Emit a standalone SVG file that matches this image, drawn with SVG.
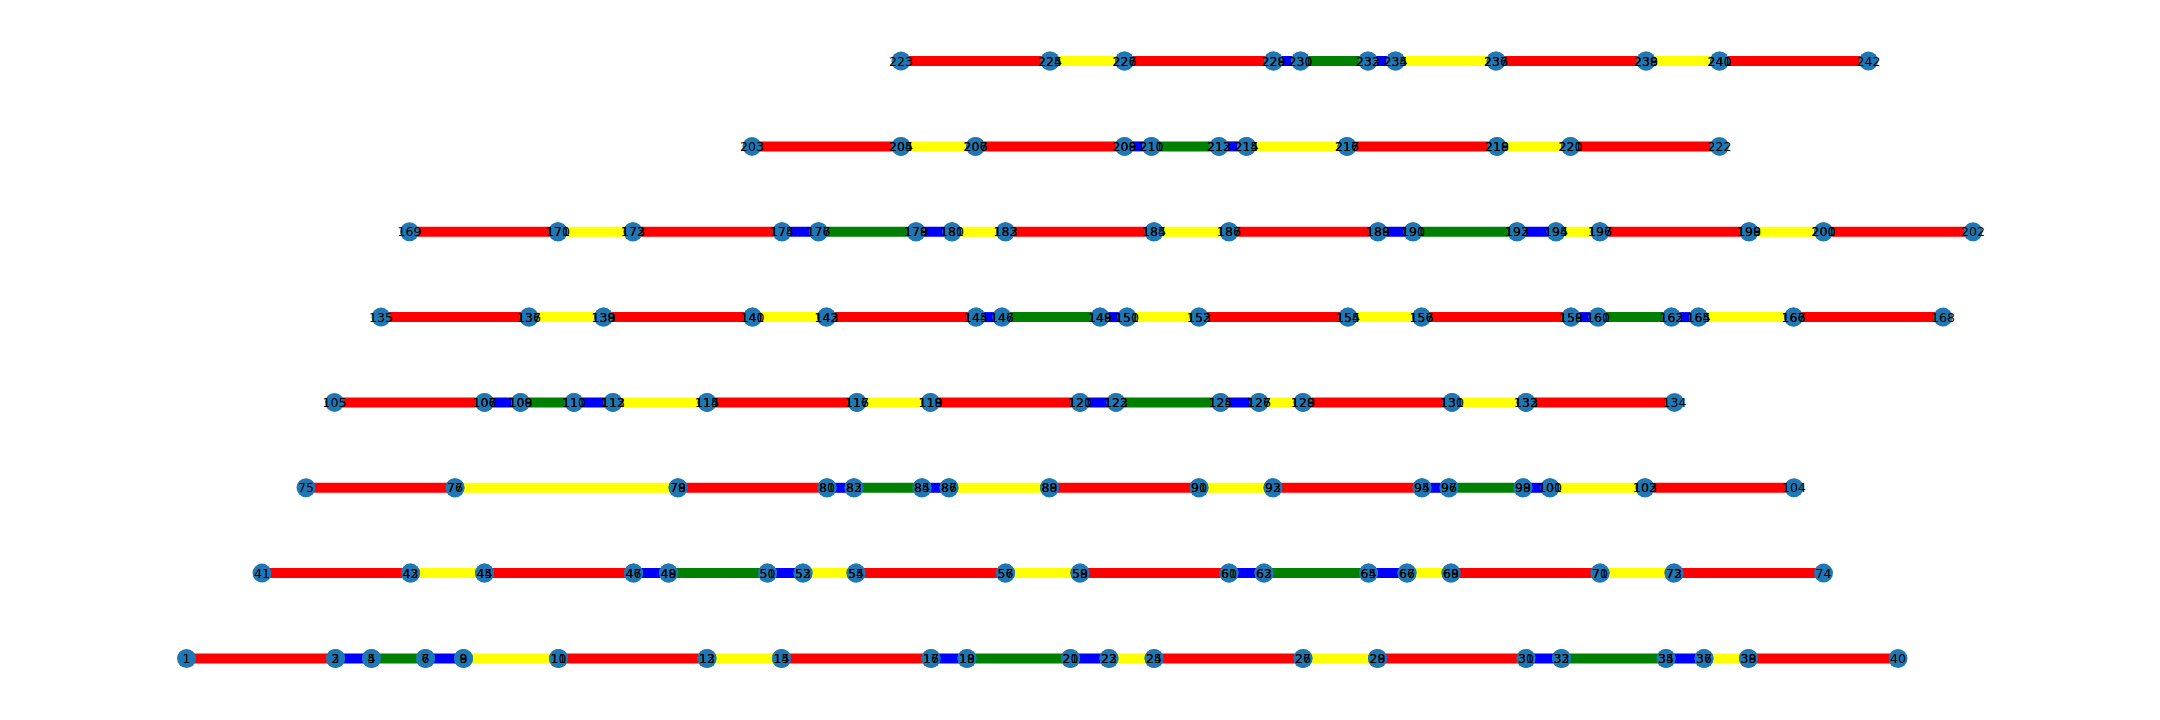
<svg xmlns="http://www.w3.org/2000/svg" width="2160" height="720" viewBox="0 0 2160 720">
<style>
.e{stroke-width:10;fill:none}
.r{stroke:#ff0000}.y{stroke:#ffff00}.b{stroke:#0000ff}.g{stroke:#008000}
#nodes circle{fill:#1f77b4}
#labels text{font-family:"DejaVu Sans",sans-serif;font-size:12.5px;text-anchor:middle;fill:#000}
</style>
<rect width="2160" height="720" fill="#ffffff"/>
<g id="connectors">
<line class="e r" x1="186.5" y1="658.5" x2="335.5" y2="658.5"/>
<line class="e b" x1="335.5" y1="658.5" x2="371.5" y2="658.5"/>
<line class="e g" x1="371.5" y1="658.5" x2="425.5" y2="658.5"/>
<line class="e b" x1="425.5" y1="658.5" x2="463.5" y2="658.5"/>
<line class="e y" x1="463.5" y1="658.5" x2="558.5" y2="658.5"/>
<line class="e r" x1="558.5" y1="658.5" x2="707" y2="658.5"/>
<line class="e y" x1="707" y1="658.5" x2="781.5" y2="658.5"/>
<line class="e r" x1="781.5" y1="658.5" x2="931" y2="658.5"/>
<line class="e b" x1="931" y1="658.5" x2="967" y2="658.5"/>
<line class="e g" x1="967" y1="658.5" x2="1070.5" y2="658.5"/>
<line class="e b" x1="1070.5" y1="658.5" x2="1109" y2="658.5"/>
<line class="e y" x1="1109" y1="658.5" x2="1154" y2="658.5"/>
<line class="e r" x1="1154" y1="658.5" x2="1303" y2="658.5"/>
<line class="e y" x1="1303" y1="658.5" x2="1377.5" y2="658.5"/>
<line class="e r" x1="1377.5" y1="658.5" x2="1526" y2="658.5"/>
<line class="e b" x1="1526" y1="658.5" x2="1561.5" y2="658.5"/>
<line class="e g" x1="1561.5" y1="658.5" x2="1666" y2="658.5"/>
<line class="e b" x1="1666" y1="658.5" x2="1704" y2="658.5"/>
<line class="e y" x1="1704" y1="658.5" x2="1748.5" y2="658.5"/>
<line class="e r" x1="1748.5" y1="658.5" x2="1898" y2="658.5"/>

<line class="e r" x1="262" y1="573.1" x2="410.5" y2="573.1"/>
<line class="e y" x1="410.5" y1="573.1" x2="484.5" y2="573.1"/>
<line class="e r" x1="484.5" y1="573.1" x2="633.5" y2="573.1"/>
<line class="e b" x1="633.5" y1="573.1" x2="668.5" y2="573.1"/>
<line class="e g" x1="668.5" y1="573.1" x2="767.5" y2="573.1"/>
<line class="e b" x1="767.5" y1="573.1" x2="803" y2="573.1"/>
<line class="e y" x1="803" y1="573.1" x2="856" y2="573.1"/>
<line class="e r" x1="856" y1="573.1" x2="1005.5" y2="573.1"/>
<line class="e y" x1="1005.5" y1="573.1" x2="1080" y2="573.1"/>
<line class="e r" x1="1080" y1="573.1" x2="1229" y2="573.1"/>
<line class="e b" x1="1229" y1="573.1" x2="1264" y2="573.1"/>
<line class="e g" x1="1264" y1="573.1" x2="1368.5" y2="573.1"/>
<line class="e b" x1="1368.5" y1="573.1" x2="1407" y2="573.1"/>
<line class="e y" x1="1407" y1="573.1" x2="1451" y2="573.1"/>
<line class="e r" x1="1451" y1="573.1" x2="1600" y2="573.1"/>
<line class="e y" x1="1600" y1="573.1" x2="1674" y2="573.1"/>
<line class="e r" x1="1674" y1="573.1" x2="1823.5" y2="573.1"/>

<line class="e r" x1="306" y1="487.8" x2="455" y2="487.8"/>
<line class="e y" x1="455" y1="487.8" x2="678" y2="487.8"/>
<line class="e r" x1="678" y1="487.8" x2="827" y2="487.8"/>
<line class="e b" x1="827" y1="487.8" x2="854" y2="487.8"/>
<line class="e g" x1="854" y1="487.8" x2="922" y2="487.8"/>
<line class="e b" x1="922" y1="487.8" x2="949" y2="487.8"/>
<line class="e y" x1="949" y1="487.8" x2="1049.5" y2="487.8"/>
<line class="e r" x1="1049.5" y1="487.8" x2="1199" y2="487.8"/>
<line class="e y" x1="1199" y1="487.8" x2="1273" y2="487.8"/>
<line class="e r" x1="1273" y1="487.8" x2="1422" y2="487.8"/>
<line class="e b" x1="1422" y1="487.8" x2="1449" y2="487.8"/>
<line class="e g" x1="1449" y1="487.8" x2="1523" y2="487.8"/>
<line class="e b" x1="1523" y1="487.8" x2="1550" y2="487.8"/>
<line class="e y" x1="1550" y1="487.8" x2="1645" y2="487.8"/>
<line class="e r" x1="1645" y1="487.8" x2="1794" y2="487.8"/>

<line class="e r" x1="334.5" y1="402.4" x2="484.5" y2="402.4"/>
<line class="e b" x1="484.5" y1="402.4" x2="520.5" y2="402.4"/>
<line class="e g" x1="520.5" y1="402.4" x2="574" y2="402.4"/>
<line class="e b" x1="574" y1="402.4" x2="613" y2="402.4"/>
<line class="e y" x1="613" y1="402.4" x2="707" y2="402.4"/>
<line class="e r" x1="707" y1="402.4" x2="857" y2="402.4"/>
<line class="e y" x1="857" y1="402.4" x2="930.5" y2="402.4"/>
<line class="e r" x1="930.5" y1="402.4" x2="1080" y2="402.4"/>
<line class="e b" x1="1080" y1="402.4" x2="1116" y2="402.4"/>
<line class="e g" x1="1116" y1="402.4" x2="1220.5" y2="402.4"/>
<line class="e b" x1="1220.5" y1="402.4" x2="1259" y2="402.4"/>
<line class="e y" x1="1259" y1="402.4" x2="1303" y2="402.4"/>
<line class="e r" x1="1303" y1="402.4" x2="1452" y2="402.4"/>
<line class="e y" x1="1452" y1="402.4" x2="1526" y2="402.4"/>
<line class="e r" x1="1526" y1="402.4" x2="1674.5" y2="402.4"/>

<line class="e r" x1="381" y1="317.1" x2="529" y2="317.1"/>
<line class="e y" x1="529" y1="317.1" x2="603.5" y2="317.1"/>
<line class="e r" x1="603.5" y1="317.1" x2="752.5" y2="317.1"/>
<line class="e y" x1="752.5" y1="317.1" x2="826.5" y2="317.1"/>
<line class="e r" x1="826.5" y1="317.1" x2="976" y2="317.1"/>
<line class="e b" x1="976" y1="317.1" x2="1002" y2="317.1"/>
<line class="e g" x1="1002" y1="317.1" x2="1100" y2="317.1"/>
<line class="e b" x1="1100" y1="317.1" x2="1127" y2="317.1"/>
<line class="e y" x1="1127" y1="317.1" x2="1199" y2="317.1"/>
<line class="e r" x1="1199" y1="317.1" x2="1348" y2="317.1"/>
<line class="e y" x1="1348" y1="317.1" x2="1421.5" y2="317.1"/>
<line class="e r" x1="1421.5" y1="317.1" x2="1571" y2="317.1"/>
<line class="e b" x1="1571" y1="317.1" x2="1598" y2="317.1"/>
<line class="e g" x1="1598" y1="317.1" x2="1671.5" y2="317.1"/>
<line class="e b" x1="1671.5" y1="317.1" x2="1698.5" y2="317.1"/>
<line class="e y" x1="1698.5" y1="317.1" x2="1793.5" y2="317.1"/>
<line class="e r" x1="1793.5" y1="317.1" x2="1943" y2="317.1"/>

<line class="e r" x1="409.5" y1="231.7" x2="558" y2="231.7"/>
<line class="e y" x1="558" y1="231.7" x2="633" y2="231.7"/>
<line class="e r" x1="633" y1="231.7" x2="782" y2="231.7"/>
<line class="e b" x1="782" y1="231.7" x2="818.5" y2="231.7"/>
<line class="e g" x1="818.5" y1="231.7" x2="916" y2="231.7"/>
<line class="e b" x1="916" y1="231.7" x2="952" y2="231.7"/>
<line class="e y" x1="952" y1="231.7" x2="1005.5" y2="231.7"/>
<line class="e r" x1="1005.5" y1="231.7" x2="1154" y2="231.7"/>
<line class="e y" x1="1154" y1="231.7" x2="1229" y2="231.7"/>
<line class="e r" x1="1229" y1="231.7" x2="1378" y2="231.7"/>
<line class="e b" x1="1378" y1="231.7" x2="1413" y2="231.7"/>
<line class="e g" x1="1413" y1="231.7" x2="1517" y2="231.7"/>
<line class="e b" x1="1517" y1="231.7" x2="1556" y2="231.7"/>
<line class="e y" x1="1556" y1="231.7" x2="1600" y2="231.7"/>
<line class="e r" x1="1600" y1="231.7" x2="1749" y2="231.7"/>
<line class="e y" x1="1749" y1="231.7" x2="1823.5" y2="231.7"/>
<line class="e r" x1="1823.5" y1="231.7" x2="1973" y2="231.7"/>

<line class="e r" x1="752" y1="146.4" x2="901" y2="146.4"/>
<line class="e y" x1="901" y1="146.4" x2="975.5" y2="146.4"/>
<line class="e r" x1="975.5" y1="146.4" x2="1124.5" y2="146.4"/>
<line class="e b" x1="1124.5" y1="146.4" x2="1151.5" y2="146.4"/>
<line class="e g" x1="1151.5" y1="146.4" x2="1219" y2="146.4"/>
<line class="e b" x1="1219" y1="146.4" x2="1246.5" y2="146.4"/>
<line class="e y" x1="1246.5" y1="146.4" x2="1347" y2="146.4"/>
<line class="e r" x1="1347" y1="146.4" x2="1497" y2="146.4"/>
<line class="e y" x1="1497" y1="146.4" x2="1570.5" y2="146.4"/>
<line class="e r" x1="1570.5" y1="146.4" x2="1719.5" y2="146.4"/>

<line class="e r" x1="901" y1="61" x2="1050" y2="61"/>
<line class="e y" x1="1050" y1="61" x2="1124.5" y2="61"/>
<line class="e r" x1="1124.5" y1="61" x2="1273.5" y2="61"/>
<line class="e b" x1="1273.5" y1="61" x2="1300.5" y2="61"/>
<line class="e g" x1="1300.5" y1="61" x2="1368" y2="61"/>
<line class="e b" x1="1368" y1="61" x2="1395.5" y2="61"/>
<line class="e y" x1="1395.5" y1="61" x2="1496" y2="61"/>
<line class="e r" x1="1496" y1="61" x2="1646" y2="61"/>
<line class="e y" x1="1646" y1="61" x2="1719.5" y2="61"/>
<line class="e r" x1="1719.5" y1="61" x2="1868.5" y2="61"/>
</g>
<g id="nodes">
<g id="n1"><circle cx="186.5" cy="658.5" r="9.5"/></g>
<g id="n2"><circle cx="335.5" cy="658.5" r="9.5"/></g>
<g id="n3"><circle cx="335.5" cy="658.5" r="9.5"/></g>
<g id="n4"><circle cx="371.5" cy="658.5" r="9.5"/></g>
<g id="n5"><circle cx="371.5" cy="658.5" r="9.5"/></g>
<g id="n6"><circle cx="425.5" cy="658.5" r="9.5"/></g>
<g id="n7"><circle cx="425.5" cy="658.5" r="9.5"/></g>
<g id="n8"><circle cx="463.5" cy="658.5" r="9.5"/></g>
<g id="n9"><circle cx="463.5" cy="658.5" r="9.5"/></g>
<g id="n10"><circle cx="558.5" cy="658.5" r="9.5"/></g>
<g id="n11"><circle cx="558.5" cy="658.5" r="9.5"/></g>
<g id="n12"><circle cx="707" cy="658.5" r="9.5"/></g>
<g id="n13"><circle cx="707" cy="658.5" r="9.5"/></g>
<g id="n14"><circle cx="781.5" cy="658.5" r="9.5"/></g>
<g id="n15"><circle cx="781.5" cy="658.5" r="9.5"/></g>
<g id="n16"><circle cx="931" cy="658.5" r="9.5"/></g>
<g id="n17"><circle cx="931" cy="658.5" r="9.5"/></g>
<g id="n18"><circle cx="967" cy="658.5" r="9.5"/></g>
<g id="n19"><circle cx="967" cy="658.5" r="9.5"/></g>
<g id="n20"><circle cx="1070.5" cy="658.5" r="9.5"/></g>
<g id="n21"><circle cx="1070.5" cy="658.5" r="9.5"/></g>
<g id="n22"><circle cx="1109" cy="658.5" r="9.5"/></g>
<g id="n23"><circle cx="1109" cy="658.5" r="9.5"/></g>
<g id="n24"><circle cx="1154" cy="658.5" r="9.5"/></g>
<g id="n25"><circle cx="1154" cy="658.5" r="9.5"/></g>
<g id="n26"><circle cx="1303" cy="658.5" r="9.5"/></g>
<g id="n27"><circle cx="1303" cy="658.5" r="9.5"/></g>
<g id="n28"><circle cx="1377.5" cy="658.5" r="9.5"/></g>
<g id="n29"><circle cx="1377.5" cy="658.5" r="9.5"/></g>
<g id="n30"><circle cx="1526" cy="658.5" r="9.5"/></g>
<g id="n31"><circle cx="1526" cy="658.5" r="9.5"/></g>
<g id="n32"><circle cx="1561.5" cy="658.5" r="9.5"/></g>
<g id="n33"><circle cx="1561.5" cy="658.5" r="9.5"/></g>
<g id="n34"><circle cx="1666" cy="658.5" r="9.5"/></g>
<g id="n35"><circle cx="1666" cy="658.5" r="9.5"/></g>
<g id="n36"><circle cx="1704" cy="658.5" r="9.5"/></g>
<g id="n37"><circle cx="1704" cy="658.5" r="9.5"/></g>
<g id="n38"><circle cx="1748.5" cy="658.5" r="9.5"/></g>
<g id="n39"><circle cx="1748.5" cy="658.5" r="9.5"/></g>
<g id="n40"><circle cx="1898" cy="658.5" r="9.5"/></g>

<g id="n41"><circle cx="262" cy="573.1" r="9.5"/></g>
<g id="n42"><circle cx="410.5" cy="573.1" r="9.5"/></g>
<g id="n43"><circle cx="410.5" cy="573.1" r="9.5"/></g>
<g id="n44"><circle cx="484.5" cy="573.1" r="9.5"/></g>
<g id="n45"><circle cx="484.5" cy="573.1" r="9.5"/></g>
<g id="n46"><circle cx="633.5" cy="573.1" r="9.5"/></g>
<g id="n47"><circle cx="633.5" cy="573.1" r="9.5"/></g>
<g id="n48"><circle cx="668.5" cy="573.1" r="9.5"/></g>
<g id="n49"><circle cx="668.5" cy="573.1" r="9.5"/></g>
<g id="n50"><circle cx="767.5" cy="573.1" r="9.5"/></g>
<g id="n51"><circle cx="767.5" cy="573.1" r="9.5"/></g>
<g id="n52"><circle cx="803" cy="573.1" r="9.5"/></g>
<g id="n53"><circle cx="803" cy="573.1" r="9.5"/></g>
<g id="n54"><circle cx="856" cy="573.1" r="9.5"/></g>
<g id="n55"><circle cx="856" cy="573.1" r="9.5"/></g>
<g id="n56"><circle cx="1005.5" cy="573.1" r="9.5"/></g>
<g id="n57"><circle cx="1005.5" cy="573.1" r="9.5"/></g>
<g id="n58"><circle cx="1080" cy="573.1" r="9.5"/></g>
<g id="n59"><circle cx="1080" cy="573.1" r="9.5"/></g>
<g id="n60"><circle cx="1229" cy="573.1" r="9.5"/></g>
<g id="n61"><circle cx="1229" cy="573.1" r="9.5"/></g>
<g id="n62"><circle cx="1264" cy="573.1" r="9.5"/></g>
<g id="n63"><circle cx="1264" cy="573.1" r="9.5"/></g>
<g id="n64"><circle cx="1368.5" cy="573.1" r="9.5"/></g>
<g id="n65"><circle cx="1368.5" cy="573.1" r="9.5"/></g>
<g id="n66"><circle cx="1407" cy="573.1" r="9.5"/></g>
<g id="n67"><circle cx="1407" cy="573.1" r="9.5"/></g>
<g id="n68"><circle cx="1451" cy="573.1" r="9.5"/></g>
<g id="n69"><circle cx="1451" cy="573.1" r="9.5"/></g>
<g id="n70"><circle cx="1600" cy="573.1" r="9.5"/></g>
<g id="n71"><circle cx="1600" cy="573.1" r="9.5"/></g>
<g id="n72"><circle cx="1674" cy="573.1" r="9.5"/></g>
<g id="n73"><circle cx="1674" cy="573.1" r="9.5"/></g>
<g id="n74"><circle cx="1823.5" cy="573.1" r="9.5"/></g>

<g id="n75"><circle cx="306" cy="487.8" r="9.5"/></g>
<g id="n76"><circle cx="455" cy="487.8" r="9.5"/></g>
<g id="n77"><circle cx="455" cy="487.8" r="9.5"/></g>
<g id="n78"><circle cx="678" cy="487.8" r="9.5"/></g>
<g id="n79"><circle cx="678" cy="487.8" r="9.5"/></g>
<g id="n80"><circle cx="827" cy="487.8" r="9.5"/></g>
<g id="n81"><circle cx="827" cy="487.8" r="9.5"/></g>
<g id="n82"><circle cx="854" cy="487.8" r="9.5"/></g>
<g id="n83"><circle cx="854" cy="487.8" r="9.5"/></g>
<g id="n84"><circle cx="922" cy="487.8" r="9.5"/></g>
<g id="n85"><circle cx="922" cy="487.8" r="9.5"/></g>
<g id="n86"><circle cx="949" cy="487.8" r="9.5"/></g>
<g id="n87"><circle cx="949" cy="487.8" r="9.5"/></g>
<g id="n88"><circle cx="1049.5" cy="487.8" r="9.5"/></g>
<g id="n89"><circle cx="1049.5" cy="487.8" r="9.5"/></g>
<g id="n90"><circle cx="1199" cy="487.8" r="9.5"/></g>
<g id="n91"><circle cx="1199" cy="487.8" r="9.5"/></g>
<g id="n92"><circle cx="1273" cy="487.8" r="9.5"/></g>
<g id="n93"><circle cx="1273" cy="487.8" r="9.5"/></g>
<g id="n94"><circle cx="1422" cy="487.8" r="9.5"/></g>
<g id="n95"><circle cx="1422" cy="487.8" r="9.5"/></g>
<g id="n96"><circle cx="1449" cy="487.8" r="9.5"/></g>
<g id="n97"><circle cx="1449" cy="487.8" r="9.5"/></g>
<g id="n98"><circle cx="1523" cy="487.8" r="9.5"/></g>
<g id="n99"><circle cx="1523" cy="487.8" r="9.5"/></g>
<g id="n100"><circle cx="1550" cy="487.8" r="9.5"/></g>
<g id="n101"><circle cx="1550" cy="487.8" r="9.5"/></g>
<g id="n102"><circle cx="1645" cy="487.8" r="9.5"/></g>
<g id="n103"><circle cx="1645" cy="487.8" r="9.5"/></g>
<g id="n104"><circle cx="1794" cy="487.8" r="9.5"/></g>

<g id="n105"><circle cx="334.5" cy="402.4" r="9.5"/></g>
<g id="n106"><circle cx="484.5" cy="402.4" r="9.5"/></g>
<g id="n107"><circle cx="484.5" cy="402.4" r="9.5"/></g>
<g id="n108"><circle cx="520.5" cy="402.4" r="9.5"/></g>
<g id="n109"><circle cx="520.5" cy="402.4" r="9.5"/></g>
<g id="n110"><circle cx="574" cy="402.4" r="9.5"/></g>
<g id="n111"><circle cx="574" cy="402.4" r="9.5"/></g>
<g id="n112"><circle cx="613" cy="402.4" r="9.5"/></g>
<g id="n113"><circle cx="613" cy="402.4" r="9.5"/></g>
<g id="n114"><circle cx="707" cy="402.4" r="9.5"/></g>
<g id="n115"><circle cx="707" cy="402.4" r="9.5"/></g>
<g id="n116"><circle cx="857" cy="402.4" r="9.5"/></g>
<g id="n117"><circle cx="857" cy="402.4" r="9.5"/></g>
<g id="n118"><circle cx="930.5" cy="402.4" r="9.5"/></g>
<g id="n119"><circle cx="930.5" cy="402.4" r="9.5"/></g>
<g id="n120"><circle cx="1080" cy="402.4" r="9.5"/></g>
<g id="n121"><circle cx="1080" cy="402.4" r="9.5"/></g>
<g id="n122"><circle cx="1116" cy="402.4" r="9.5"/></g>
<g id="n123"><circle cx="1116" cy="402.4" r="9.5"/></g>
<g id="n124"><circle cx="1220.5" cy="402.4" r="9.5"/></g>
<g id="n125"><circle cx="1220.5" cy="402.4" r="9.5"/></g>
<g id="n126"><circle cx="1259" cy="402.4" r="9.5"/></g>
<g id="n127"><circle cx="1259" cy="402.4" r="9.5"/></g>
<g id="n128"><circle cx="1303" cy="402.4" r="9.5"/></g>
<g id="n129"><circle cx="1303" cy="402.4" r="9.5"/></g>
<g id="n130"><circle cx="1452" cy="402.4" r="9.5"/></g>
<g id="n131"><circle cx="1452" cy="402.4" r="9.5"/></g>
<g id="n132"><circle cx="1526" cy="402.4" r="9.5"/></g>
<g id="n133"><circle cx="1526" cy="402.4" r="9.5"/></g>
<g id="n134"><circle cx="1674.5" cy="402.4" r="9.5"/></g>

<g id="n135"><circle cx="381" cy="317.1" r="9.5"/></g>
<g id="n136"><circle cx="529" cy="317.1" r="9.5"/></g>
<g id="n137"><circle cx="529" cy="317.1" r="9.5"/></g>
<g id="n138"><circle cx="603.5" cy="317.1" r="9.5"/></g>
<g id="n139"><circle cx="603.5" cy="317.1" r="9.5"/></g>
<g id="n140"><circle cx="752.5" cy="317.1" r="9.5"/></g>
<g id="n141"><circle cx="752.5" cy="317.1" r="9.5"/></g>
<g id="n142"><circle cx="826.5" cy="317.1" r="9.5"/></g>
<g id="n143"><circle cx="826.5" cy="317.1" r="9.5"/></g>
<g id="n144"><circle cx="976" cy="317.1" r="9.5"/></g>
<g id="n145"><circle cx="976" cy="317.1" r="9.5"/></g>
<g id="n146"><circle cx="1002" cy="317.1" r="9.5"/></g>
<g id="n147"><circle cx="1002" cy="317.1" r="9.5"/></g>
<g id="n148"><circle cx="1100" cy="317.1" r="9.5"/></g>
<g id="n149"><circle cx="1100" cy="317.1" r="9.5"/></g>
<g id="n150"><circle cx="1127" cy="317.1" r="9.5"/></g>
<g id="n151"><circle cx="1127" cy="317.1" r="9.5"/></g>
<g id="n152"><circle cx="1199" cy="317.1" r="9.5"/></g>
<g id="n153"><circle cx="1199" cy="317.1" r="9.5"/></g>
<g id="n154"><circle cx="1348" cy="317.1" r="9.5"/></g>
<g id="n155"><circle cx="1348" cy="317.1" r="9.5"/></g>
<g id="n156"><circle cx="1421.5" cy="317.1" r="9.5"/></g>
<g id="n157"><circle cx="1421.5" cy="317.1" r="9.5"/></g>
<g id="n158"><circle cx="1571" cy="317.1" r="9.5"/></g>
<g id="n159"><circle cx="1571" cy="317.1" r="9.5"/></g>
<g id="n160"><circle cx="1598" cy="317.1" r="9.5"/></g>
<g id="n161"><circle cx="1598" cy="317.1" r="9.5"/></g>
<g id="n162"><circle cx="1671.5" cy="317.1" r="9.5"/></g>
<g id="n163"><circle cx="1671.5" cy="317.1" r="9.5"/></g>
<g id="n164"><circle cx="1698.5" cy="317.1" r="9.5"/></g>
<g id="n165"><circle cx="1698.5" cy="317.1" r="9.5"/></g>
<g id="n166"><circle cx="1793.5" cy="317.1" r="9.5"/></g>
<g id="n167"><circle cx="1793.5" cy="317.1" r="9.5"/></g>
<g id="n168"><circle cx="1943" cy="317.1" r="9.5"/></g>

<g id="n169"><circle cx="409.5" cy="231.7" r="9.5"/></g>
<g id="n170"><circle cx="558" cy="231.7" r="9.5"/></g>
<g id="n171"><circle cx="558" cy="231.7" r="9.5"/></g>
<g id="n172"><circle cx="633" cy="231.7" r="9.5"/></g>
<g id="n173"><circle cx="633" cy="231.7" r="9.5"/></g>
<g id="n174"><circle cx="782" cy="231.7" r="9.5"/></g>
<g id="n175"><circle cx="782" cy="231.7" r="9.5"/></g>
<g id="n176"><circle cx="818.5" cy="231.7" r="9.5"/></g>
<g id="n177"><circle cx="818.5" cy="231.7" r="9.5"/></g>
<g id="n178"><circle cx="916" cy="231.7" r="9.5"/></g>
<g id="n179"><circle cx="916" cy="231.7" r="9.5"/></g>
<g id="n180"><circle cx="952" cy="231.7" r="9.5"/></g>
<g id="n181"><circle cx="952" cy="231.7" r="9.5"/></g>
<g id="n182"><circle cx="1005.5" cy="231.7" r="9.5"/></g>
<g id="n183"><circle cx="1005.5" cy="231.7" r="9.5"/></g>
<g id="n184"><circle cx="1154" cy="231.7" r="9.5"/></g>
<g id="n185"><circle cx="1154" cy="231.7" r="9.5"/></g>
<g id="n186"><circle cx="1229" cy="231.7" r="9.5"/></g>
<g id="n187"><circle cx="1229" cy="231.7" r="9.5"/></g>
<g id="n188"><circle cx="1378" cy="231.7" r="9.5"/></g>
<g id="n189"><circle cx="1378" cy="231.7" r="9.5"/></g>
<g id="n190"><circle cx="1413" cy="231.7" r="9.5"/></g>
<g id="n191"><circle cx="1413" cy="231.7" r="9.5"/></g>
<g id="n192"><circle cx="1517" cy="231.7" r="9.5"/></g>
<g id="n193"><circle cx="1517" cy="231.7" r="9.5"/></g>
<g id="n194"><circle cx="1556" cy="231.7" r="9.5"/></g>
<g id="n195"><circle cx="1556" cy="231.7" r="9.5"/></g>
<g id="n196"><circle cx="1600" cy="231.7" r="9.5"/></g>
<g id="n197"><circle cx="1600" cy="231.7" r="9.5"/></g>
<g id="n198"><circle cx="1749" cy="231.7" r="9.5"/></g>
<g id="n199"><circle cx="1749" cy="231.7" r="9.5"/></g>
<g id="n200"><circle cx="1823.5" cy="231.7" r="9.5"/></g>
<g id="n201"><circle cx="1823.5" cy="231.7" r="9.5"/></g>
<g id="n202"><circle cx="1973" cy="231.7" r="9.5"/></g>

<g id="n203"><circle cx="752" cy="146.4" r="9.5"/></g>
<g id="n204"><circle cx="901" cy="146.4" r="9.5"/></g>
<g id="n205"><circle cx="901" cy="146.4" r="9.5"/></g>
<g id="n206"><circle cx="975.5" cy="146.4" r="9.5"/></g>
<g id="n207"><circle cx="975.5" cy="146.4" r="9.5"/></g>
<g id="n208"><circle cx="1124.5" cy="146.4" r="9.5"/></g>
<g id="n209"><circle cx="1124.5" cy="146.4" r="9.5"/></g>
<g id="n210"><circle cx="1151.5" cy="146.4" r="9.5"/></g>
<g id="n211"><circle cx="1151.5" cy="146.4" r="9.5"/></g>
<g id="n212"><circle cx="1219" cy="146.4" r="9.5"/></g>
<g id="n213"><circle cx="1219" cy="146.4" r="9.5"/></g>
<g id="n214"><circle cx="1246.5" cy="146.4" r="9.5"/></g>
<g id="n215"><circle cx="1246.5" cy="146.4" r="9.5"/></g>
<g id="n216"><circle cx="1347" cy="146.4" r="9.5"/></g>
<g id="n217"><circle cx="1347" cy="146.4" r="9.5"/></g>
<g id="n218"><circle cx="1497" cy="146.4" r="9.5"/></g>
<g id="n219"><circle cx="1497" cy="146.4" r="9.5"/></g>
<g id="n220"><circle cx="1570.5" cy="146.4" r="9.5"/></g>
<g id="n221"><circle cx="1570.5" cy="146.4" r="9.5"/></g>
<g id="n222"><circle cx="1719.5" cy="146.4" r="9.5"/></g>

<g id="n223"><circle cx="901" cy="61" r="9.5"/></g>
<g id="n224"><circle cx="1050" cy="61" r="9.5"/></g>
<g id="n225"><circle cx="1050" cy="61" r="9.5"/></g>
<g id="n226"><circle cx="1124.5" cy="61" r="9.5"/></g>
<g id="n227"><circle cx="1124.5" cy="61" r="9.5"/></g>
<g id="n228"><circle cx="1273.5" cy="61" r="9.5"/></g>
<g id="n229"><circle cx="1273.5" cy="61" r="9.5"/></g>
<g id="n230"><circle cx="1300.5" cy="61" r="9.5"/></g>
<g id="n231"><circle cx="1300.5" cy="61" r="9.5"/></g>
<g id="n232"><circle cx="1368" cy="61" r="9.5"/></g>
<g id="n233"><circle cx="1368" cy="61" r="9.5"/></g>
<g id="n234"><circle cx="1395.5" cy="61" r="9.5"/></g>
<g id="n235"><circle cx="1395.5" cy="61" r="9.5"/></g>
<g id="n236"><circle cx="1496" cy="61" r="9.5"/></g>
<g id="n237"><circle cx="1496" cy="61" r="9.5"/></g>
<g id="n238"><circle cx="1646" cy="61" r="9.5"/></g>
<g id="n239"><circle cx="1646" cy="61" r="9.5"/></g>
<g id="n240"><circle cx="1719.5" cy="61" r="9.5"/></g>
<g id="n241"><circle cx="1719.5" cy="61" r="9.5"/></g>
<g id="n242"><circle cx="1868.5" cy="61" r="9.5"/></g>
</g>
<g id="labels">
<text x="186.5" y="663">1</text>
<text x="335.5" y="663">2</text><text x="335.5" y="663">3</text>
<text x="371.5" y="663">4</text><text x="371.5" y="663">5</text>
<text x="425.5" y="663">6</text><text x="425.5" y="663">7</text>
<text x="463.5" y="663">8</text><text x="463.5" y="663">9</text>
<text x="558.5" y="663">10</text><text x="558.5" y="663">11</text>
<text x="707" y="663">12</text><text x="707" y="663">13</text>
<text x="781.5" y="663">14</text><text x="781.5" y="663">15</text>
<text x="931" y="663">16</text><text x="931" y="663">17</text>
<text x="967" y="663">18</text><text x="967" y="663">19</text>
<text x="1070.5" y="663">20</text><text x="1070.5" y="663">21</text>
<text x="1109" y="663">22</text><text x="1109" y="663">23</text>
<text x="1154" y="663">24</text><text x="1154" y="663">25</text>
<text x="1303" y="663">26</text><text x="1303" y="663">27</text>
<text x="1377.5" y="663">28</text><text x="1377.5" y="663">29</text>
<text x="1526" y="663">30</text><text x="1526" y="663">31</text>
<text x="1561.5" y="663">32</text><text x="1561.5" y="663">33</text>
<text x="1666" y="663">34</text><text x="1666" y="663">35</text>
<text x="1704" y="663">36</text><text x="1704" y="663">37</text>
<text x="1748.5" y="663">38</text><text x="1748.5" y="663">39</text>
<text x="1898" y="663">40</text>

<text x="262" y="577.6">41</text>
<text x="410.5" y="577.6">42</text><text x="410.5" y="577.6">43</text>
<text x="484.5" y="577.6">44</text><text x="484.5" y="577.6">45</text>
<text x="633.5" y="577.6">46</text><text x="633.5" y="577.6">47</text>
<text x="668.5" y="577.6">48</text><text x="668.5" y="577.6">49</text>
<text x="767.5" y="577.6">50</text><text x="767.5" y="577.6">51</text>
<text x="803" y="577.6">52</text><text x="803" y="577.6">53</text>
<text x="856" y="577.6">54</text><text x="856" y="577.6">55</text>
<text x="1005.5" y="577.6">56</text><text x="1005.5" y="577.6">57</text>
<text x="1080" y="577.6">58</text><text x="1080" y="577.6">59</text>
<text x="1229" y="577.6">60</text><text x="1229" y="577.6">61</text>
<text x="1264" y="577.6">62</text><text x="1264" y="577.6">63</text>
<text x="1368.5" y="577.6">64</text><text x="1368.5" y="577.6">65</text>
<text x="1407" y="577.6">66</text><text x="1407" y="577.6">67</text>
<text x="1451" y="577.6">68</text><text x="1451" y="577.6">69</text>
<text x="1600" y="577.6">70</text><text x="1600" y="577.6">71</text>
<text x="1674" y="577.6">72</text><text x="1674" y="577.6">73</text>
<text x="1823.5" y="577.6">74</text>

<text x="306" y="492.3">75</text>
<text x="455" y="492.3">76</text><text x="455" y="492.3">77</text>
<text x="678" y="492.3">78</text><text x="678" y="492.3">79</text>
<text x="827" y="492.3">80</text><text x="827" y="492.3">81</text>
<text x="854" y="492.3">82</text><text x="854" y="492.3">83</text>
<text x="922" y="492.3">84</text><text x="922" y="492.3">85</text>
<text x="949" y="492.3">86</text><text x="949" y="492.3">87</text>
<text x="1049.5" y="492.3">88</text><text x="1049.5" y="492.3">89</text>
<text x="1199" y="492.3">90</text><text x="1199" y="492.3">91</text>
<text x="1273" y="492.3">92</text><text x="1273" y="492.3">93</text>
<text x="1422" y="492.3">94</text><text x="1422" y="492.3">95</text>
<text x="1449" y="492.3">96</text><text x="1449" y="492.3">97</text>
<text x="1523" y="492.3">98</text><text x="1523" y="492.3">99</text>
<text x="1550" y="492.3">100</text><text x="1550" y="492.3">101</text>
<text x="1645" y="492.3">102</text><text x="1645" y="492.3">103</text>
<text x="1794" y="492.3">104</text>

<text x="334.5" y="406.9">105</text>
<text x="484.5" y="406.9">106</text><text x="484.5" y="406.9">107</text>
<text x="520.5" y="406.9">108</text><text x="520.5" y="406.9">109</text>
<text x="574" y="406.9">110</text><text x="574" y="406.9">111</text>
<text x="613" y="406.9">112</text><text x="613" y="406.9">113</text>
<text x="707" y="406.9">114</text><text x="707" y="406.9">115</text>
<text x="857" y="406.9">116</text><text x="857" y="406.9">117</text>
<text x="930.5" y="406.9">118</text><text x="930.5" y="406.9">119</text>
<text x="1080" y="406.9">120</text><text x="1080" y="406.9">121</text>
<text x="1116" y="406.9">122</text><text x="1116" y="406.9">123</text>
<text x="1220.5" y="406.9">124</text><text x="1220.5" y="406.9">125</text>
<text x="1259" y="406.9">126</text><text x="1259" y="406.9">127</text>
<text x="1303" y="406.9">128</text><text x="1303" y="406.9">129</text>
<text x="1452" y="406.9">130</text><text x="1452" y="406.9">131</text>
<text x="1526" y="406.9">132</text><text x="1526" y="406.9">133</text>
<text x="1674.5" y="406.9">134</text>

<text x="381" y="321.6">135</text>
<text x="529" y="321.6">136</text><text x="529" y="321.6">137</text>
<text x="603.5" y="321.6">138</text><text x="603.5" y="321.6">139</text>
<text x="752.5" y="321.6">140</text><text x="752.5" y="321.6">141</text>
<text x="826.5" y="321.6">142</text><text x="826.5" y="321.6">143</text>
<text x="976" y="321.6">144</text><text x="976" y="321.6">145</text>
<text x="1002" y="321.6">146</text><text x="1002" y="321.6">147</text>
<text x="1100" y="321.6">148</text><text x="1100" y="321.6">149</text>
<text x="1127" y="321.6">150</text><text x="1127" y="321.6">151</text>
<text x="1199" y="321.6">152</text><text x="1199" y="321.6">153</text>
<text x="1348" y="321.6">154</text><text x="1348" y="321.6">155</text>
<text x="1421.5" y="321.6">156</text><text x="1421.5" y="321.6">157</text>
<text x="1571" y="321.6">158</text><text x="1571" y="321.6">159</text>
<text x="1598" y="321.6">160</text><text x="1598" y="321.6">161</text>
<text x="1671.5" y="321.6">162</text><text x="1671.5" y="321.6">163</text>
<text x="1698.5" y="321.6">164</text><text x="1698.5" y="321.6">165</text>
<text x="1793.5" y="321.6">166</text><text x="1793.5" y="321.6">167</text>
<text x="1943" y="321.6">168</text>

<text x="409.5" y="236.2">169</text>
<text x="558" y="236.2">170</text><text x="558" y="236.2">171</text>
<text x="633" y="236.2">172</text><text x="633" y="236.2">173</text>
<text x="782" y="236.2">174</text><text x="782" y="236.2">175</text>
<text x="818.5" y="236.2">176</text><text x="818.5" y="236.2">177</text>
<text x="916" y="236.2">178</text><text x="916" y="236.2">179</text>
<text x="952" y="236.2">180</text><text x="952" y="236.2">181</text>
<text x="1005.5" y="236.2">182</text><text x="1005.5" y="236.2">183</text>
<text x="1154" y="236.2">184</text><text x="1154" y="236.2">185</text>
<text x="1229" y="236.2">186</text><text x="1229" y="236.2">187</text>
<text x="1378" y="236.2">188</text><text x="1378" y="236.2">189</text>
<text x="1413" y="236.2">190</text><text x="1413" y="236.2">191</text>
<text x="1517" y="236.2">192</text><text x="1517" y="236.2">193</text>
<text x="1556" y="236.2">194</text><text x="1556" y="236.2">195</text>
<text x="1600" y="236.2">196</text><text x="1600" y="236.2">197</text>
<text x="1749" y="236.2">198</text><text x="1749" y="236.2">199</text>
<text x="1823.5" y="236.2">200</text><text x="1823.5" y="236.2">201</text>
<text x="1973" y="236.2">202</text>

<text x="752" y="150.9">203</text>
<text x="901" y="150.9">204</text><text x="901" y="150.9">205</text>
<text x="975.5" y="150.9">206</text><text x="975.5" y="150.9">207</text>
<text x="1124.5" y="150.9">208</text><text x="1124.5" y="150.9">209</text>
<text x="1151.5" y="150.9">210</text><text x="1151.5" y="150.9">211</text>
<text x="1219" y="150.9">212</text><text x="1219" y="150.9">213</text>
<text x="1246.5" y="150.9">214</text><text x="1246.5" y="150.9">215</text>
<text x="1347" y="150.9">216</text><text x="1347" y="150.9">217</text>
<text x="1497" y="150.9">218</text><text x="1497" y="150.9">219</text>
<text x="1570.5" y="150.9">220</text><text x="1570.5" y="150.9">221</text>
<text x="1719.5" y="150.9">222</text>

<text x="901" y="65.5">223</text>
<text x="1050" y="65.5">224</text><text x="1050" y="65.5">225</text>
<text x="1124.5" y="65.5">226</text><text x="1124.5" y="65.5">227</text>
<text x="1273.5" y="65.5">228</text><text x="1273.5" y="65.5">229</text>
<text x="1300.5" y="65.5">230</text><text x="1300.5" y="65.5">231</text>
<text x="1368" y="65.5">232</text><text x="1368" y="65.5">233</text>
<text x="1395.5" y="65.5">234</text><text x="1395.5" y="65.5">235</text>
<text x="1496" y="65.5">236</text><text x="1496" y="65.5">237</text>
<text x="1646" y="65.5">238</text><text x="1646" y="65.5">239</text>
<text x="1719.5" y="65.5">240</text><text x="1719.5" y="65.5">241</text>
<text x="1868.5" y="65.5">242</text>
</g>
</svg>
